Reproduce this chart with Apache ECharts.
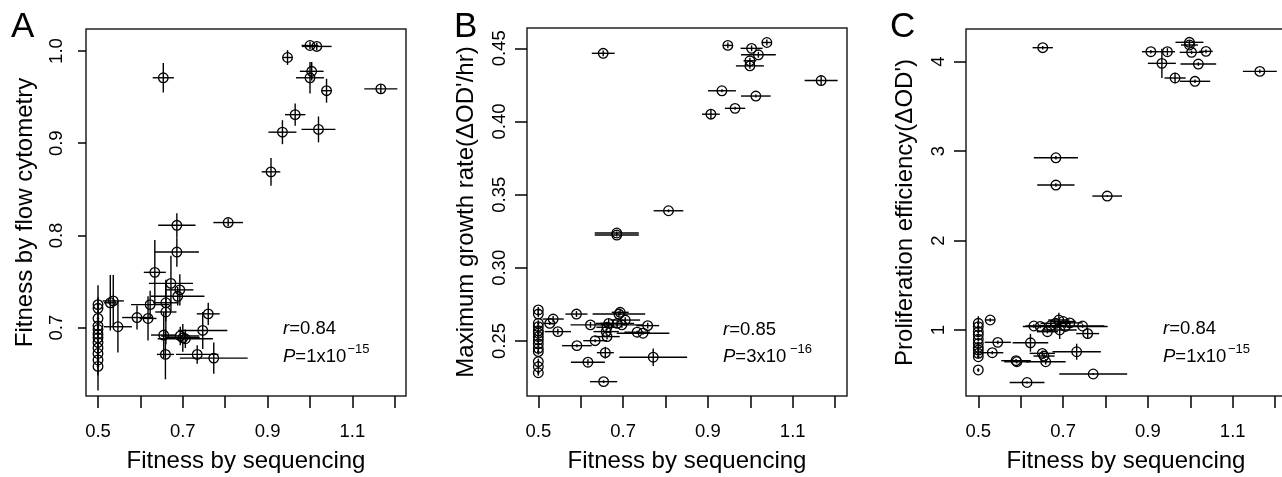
<!DOCTYPE html>
<html><head><meta charset="utf-8">
<script src="https://cdn.jsdelivr.net/npm/echarts@6/dist/echarts.min.js"></script>
<style>html,body{margin:0;padding:0;background:#fff}#c{width:1282px;height:477px}</style>
</head><body><div id="c"></div>
<script>
const FONT = '"Liberation Sans", Arial, Helvetica, sans-serif';

// ---- shared tick values ----
const xTicks = [0.5, 0.6, 0.7, 0.8, 0.9, 1.0, 1.1, 1.2];
const xTickLabels = [0.5, 0.7, 0.9, 1.1];
const aYTicks = [0.7, 0.8, 0.9, 1.0];
const bYTicks = [0.25, 0.30, 0.35, 0.40, 0.45];
const cYTicks = [1, 2, 3, 4];

// ---- Panel A: fitness by flow cytometry ----
const aX = [1.000,1.016,0.947,1.004,1.000,1.039,1.167,0.965,0.935,1.020,0.908,0.654,0.807,0.686,
  0.686,0.634,0.672,0.693,0.688,0.623,0.660,0.660,0.592,0.618,0.547,0.529,0.536,0.655,0.694,0.700,0.706,0.747,0.760,0.659,0.734,0.773,
  0.500,0.500,0.500,0.500,0.500,0.500,0.500,0.500,0.500,0.500,0.500,0.500];
const aY = [1.006,1.005,0.993,0.978,0.971,0.957,0.959,0.931,0.912,0.915,0.869,0.971,0.814,0.811,
  0.782,0.760,0.748,0.741,0.734,0.725,0.727,0.717,0.711,0.710,0.701,0.727,0.729,0.692,0.691,0.689,0.688,0.697,0.715,0.671,0.671,0.667,
  0.725,0.721,0.710,0.702,0.698,0.693,0.689,0.684,0.678,0.672,0.665,0.658];
const aXErr = [0.020,0.035,0.012,0.028,0.033,0.013,0.039,0.024,0.033,0.040,0.022,0.025,0.035,0.044,
  0.052,0.026,0.052,0.032,0.063,0.045,0.030,0.025,0.035,0.020,0.033,0.015,0.025,0.030,0.045,0.040,0.065,0.058,0.027,0.020,0.050,0.080,
  0.003,0.003,0.003,0.003,0.003,0.003,0.003,0.003,0.003,0.003,0.003,0.003];
const aYErr = [0.004,0.004,0.008,0.010,0.017,0.013,0.005,0.012,0.013,0.014,0.015,0.016,0.004,0.013,
  0.016,0.035,0.030,0.017,0.010,0.015,0.020,0.035,0.013,0.024,0.028,0.030,0.028,0.025,0.010,0.015,0.010,0.020,0.012,0.027,0.010,0.017,
  0.008,0.006,0.010,0.006,0.008,0.006,0.057,0.006,0.008,0.006,0.008,0.010];

// ---- Panel B: maximum growth rate ----
const bX = [0.947,1.003,1.039,1.019,0.999,0.999,1.167,0.933,1.013,0.964,0.907,0.653,0.807,0.685,0.685,
  0.535,0.527,0.546,0.590,0.623,0.591,0.634,0.617,0.658,0.662,0.660,0.662,0.666,0.690,0.693,0.686,0.705,0.697,0.733,0.747,0.758,0.771,0.654,
  0.500,0.500,0.500,0.500,0.500,0.500,0.500,0.500,0.500,0.500,0.500,0.500,0.500,0.500];
const bY = [0.452,0.450,0.454,0.4456,0.4415,0.438,0.428,0.421,0.4174,0.409,0.405,0.4466,0.339,0.3238,0.3224,
  0.265,0.262,0.2564,0.2684,0.261,0.2468,0.2502,0.2355,0.242,0.253,0.2564,0.2594,0.262,0.2684,0.2696,0.262,0.2643,0.261,0.256,0.2553,0.2605,0.2389,0.2222,
  0.2712,0.2684,0.2621,0.2598,0.2570,0.2553,0.2530,0.2507,0.2480,0.2450,0.2427,0.2359,0.2324,0.2283];
const bXErr = [0.012,0.026,0.012,0.041,0.015,0.033,0.039,0.033,0.035,0.024,0.021,0.027,0.035,0.052,0.052,
  0.025,0.015,0.031,0.026,0.047,0.035,0.028,0.040,0.020,0.030,0.030,0.025,0.030,0.062,0.020,0.040,0.035,0.050,0.030,0.062,0.027,0.080,0.032,
  0.003,0.003,0.003,0.003,0.003,0.003,0.003,0.003,0.003,0.003,0.003,0.003,0.003,0.003];
const bYErr = [0.002,0.002,0.002,0.002,0.002,0.002,0.003,0.001,0.001,0.001,0.003,0.002,0.001,0.001,0.001,
  0.002,0.001,0.002,0.002,0.002,0.001,0.001,0.002,0.004,0.002,0.002,0.002,0.003,0.002,0.002,0.002,0.002,0.002,0.001,0.001,0.002,0.006,0.001,
  0.002,0.002,0.002,0.002,0.002,0.002,0.002,0.002,0.002,0.002,0.002,0.002,0.002,0.002];

// ---- Panel C: proliferation efficiency ----
const cX = [0.907,0.946,0.933,0.998,0.998,1.003,1.037,1.019,0.964,1.011,1.164,0.652,0.683,0.683,0.804,
  0.528,0.546,0.533,0.623,0.589,0.591,0.615,0.651,0.655,0.659,0.631,0.646,0.663,0.671,0.682,0.690,0.700,0.705,0.692,0.716,0.746,0.758,0.732,0.771,
  0.500,0.500,0.500,0.500,0.500,0.500,0.500,0.500,0.500,0.500,0.500];
const cY = [4.112,4.112,3.982,4.217,4.187,4.105,4.116,3.974,3.818,3.781,3.892,4.157,2.926,2.621,2.498,
  1.112,0.862,0.746,0.857,0.657,0.645,0.413,0.739,0.709,0.645,1.045,1.040,0.981,1.050,1.075,1.112,1.095,1.040,1.000,1.080,1.045,0.960,0.757,0.508,
  1.075,1.037,0.981,0.944,0.896,0.851,0.806,0.776,0.739,0.701,0.553];
const cXErr = [0.021,0.018,0.033,0.033,0.020,0.028,0.016,0.042,0.025,0.036,0.040,0.024,0.052,0.044,0.035,
  0.012,0.031,0.026,0.042,0.035,0.030,0.041,0.030,0.025,0.047,0.020,0.030,0.025,0.030,0.035,0.025,0.030,0.100,0.040,0.030,0.051,0.027,0.057,0.080,
  0.003,0.003,0.003,0.003,0.003,0.003,0.003,0.003,0.003,0.003,0.003];
const cYErr = [0.02,0.04,0.164,0.02,0.02,0.02,0.02,0.02,0.06,0.02,0.02,0.02,0.02,0.02,0.01,
  0.02,0.02,0.02,0.10,0.02,0.02,0.01,0.03,0.03,0.03,0.02,0.02,0.02,0.02,0.03,0.08,0.03,0.02,0.10,0.02,0.02,0.06,0.09,0.01,
  0.08,0.02,0.02,0.02,0.02,0.02,0.02,0.02,0.02,0.02,0.02];

// ---- text ----
const xTitle = 'Fitness by sequencing';
const yTitles = ['Fitness by flow cytometry', 'Maximum growth rate(\u0394OD\'/hr)', 'Proliferation efficiency(\u0394OD\')'];
const stats = [['0.84', '1', '\u221215'], ['0.85', '3', '\u221216'], ['0.84', '1', '\u221215']];
const letters = ['A', 'B', 'C'];

function rows(x, y, xe, ye) { return x.map((v, i) => [v, y[i], xe[i], ye[i]]); }

function renderItem(params, api) {
  const x = api.value(0), y = api.value(1), ex = api.value(2), ey = api.value(3);
  const c = api.coord([x, y]);
  const l = api.coord([x - ex, y]), r = api.coord([x + ex, y]);
  const t = api.coord([x, y + ey]), b = api.coord([x, y - ey]);
  const ls = { stroke: '#000', lineWidth: 1.4 };
  return { type: 'group', children: [
    { type: 'line', shape: { x1: l[0], y1: l[1], x2: r[0], y2: r[1] }, style: ls },
    { type: 'line', shape: { x1: t[0], y1: t[1], x2: b[0], y2: b[1] }, style: ls },
    { type: 'circle', shape: { cx: c[0], cy: c[1], r: 4.8 }, style: { fill: 'none', stroke: '#000', lineWidth: 1.3 } }
  ]};
}

const grids = [
  { left: 86, top: 29, width: 320, height: 367 },
  { left: 527, top: 28, width: 320, height: 368 },
  { left: 966, top: 29, width: 320, height: 367 }
].map(g => Object.assign(g, { show: true, borderColor: '#222', borderWidth: 1.5, backgroundColor: 'transparent', containLabel: false, outerBoundsMode: 'none' }));

const xRanges = [[0.4717, 1.2264], [0.4733, 1.228], [0.471, 1.2257]];
const yRanges = [[0.6259, 1.0239], [0.2124, 0.4639], [0.262, 4.366]];
const yTickSets = [aYTicks, bYTicks, cYTicks];
const yFmt = [v => v.toFixed(1), v => v.toFixed(2), v => String(Math.round(v))];
const yTickLen = [8, 12, 12];
const yMargin = [20, 17.5, 17.5];

const xAxes = [0, 1, 2].map(i => ({
  gridIndex: i, type: 'value', min: xRanges[i][0], max: xRanges[i][1],
  name: xTitle, nameLocation: 'middle', nameGap: 53,
  nameTextStyle: { fontSize: 24, color: '#000', fontFamily: FONT },
  axisLine: { show: false }, splitLine: { show: false },
  axisTick: { show: true, length: 12, lineStyle: { color: '#000', width: 1.5 }, customValues: xTicks },
  axisLabel: { fontSize: 18.5, color: '#000', fontFamily: FONT, margin: 26.5, customValues: xTickLabels, formatter: v => Number(v).toFixed(1) }
}));
const yAxes = [0, 1, 2].map(i => ({
  gridIndex: i, type: 'value', min: yRanges[i][0], max: yRanges[i][1],
  name: yTitles[i], nameLocation: 'middle', nameGap: 49,
  nameTextStyle: { fontSize: 24, color: '#000', fontFamily: FONT },
  axisLine: { show: false }, splitLine: { show: false },
  axisTick: { show: true, length: yTickLen[i], lineStyle: { color: '#000', width: 1.5 }, customValues: yTickSets[i] },
  axisLabel: { fontSize: 18.5, color: '#000', fontFamily: FONT, margin: yMargin[i], rotate: 90, customValues: yTickSets[i], formatter: v => yFmt[i](Number(v)) }
}));

const datasets = [rows(aX, aY, aXErr, aYErr), rows(bX, bY, bXErr, bYErr), rows(cX, cY, cXErr, cYErr)];
const series = datasets.map((d, i) => ({
  type: 'custom', xAxisIndex: i, yAxisIndex: i, renderItem, data: d,
  encode: { x: 0, y: 1 }, clip: false, animation: false, silent: true
}));

// annotation positions (left x, middle y of r line, middle y of P line, superscript x, superscript y)
const ann = [[283, 329, 356.5, 347.5, 349.5], [723, 329.5, 356.5, 790, 349.5], [1163, 329, 356.5, 1228, 349.5]];
const letterPos = [[11, 27.5], [454, 27.5], [890, 27.5]];
const graphic = [];
ann.forEach((a, i) => {
  graphic.push({ type: 'text', x: a[0], y: a[1], silent: true, style: { text: '{i|r}=' + stats[i][0], fontSize: 18.5, fontFamily: FONT, fill: '#000', textAlign: 'left', textVerticalAlign: 'middle', align: 'left', verticalAlign: 'middle', rich: { i: { fontStyle: 'italic', fontSize: 18.5, fontFamily: FONT, fill: '#000' } } } });
  graphic.push({ type: 'text', x: a[0], y: a[2], silent: true, style: { text: '{i|P}=' + stats[i][1] + 'x10', fontSize: 18.5, fontFamily: FONT, fill: '#000', textAlign: 'left', textVerticalAlign: 'middle', align: 'left', verticalAlign: 'middle', rich: { i: { fontStyle: 'italic', fontSize: 18.5, fontFamily: FONT, fill: '#000' } } } });
  graphic.push({ type: 'text', x: a[3], y: a[4], silent: true, style: { text: stats[i][2], fontSize: 13, fontFamily: FONT, fill: '#000', textAlign: 'left', textVerticalAlign: 'middle', align: 'left', verticalAlign: 'middle' } });
});
letterPos.forEach((p, i) => {
  graphic.push({ type: 'text', x: p[0], y: p[1], silent: true, style: { text: letters[i], fontSize: 35, fontFamily: FONT, fill: '#000', textAlign: 'left', textVerticalAlign: 'middle', align: 'left', verticalAlign: 'middle' } });
});

const chart = echarts.init(document.getElementById('c'), null, { renderer: 'canvas' });
chart.setOption({
  backgroundColor: '#fff',
  animation: false,
  grid: grids,
  xAxis: xAxes,
  yAxis: yAxes,
  series,
  graphic
});
</script>
</body></html>
